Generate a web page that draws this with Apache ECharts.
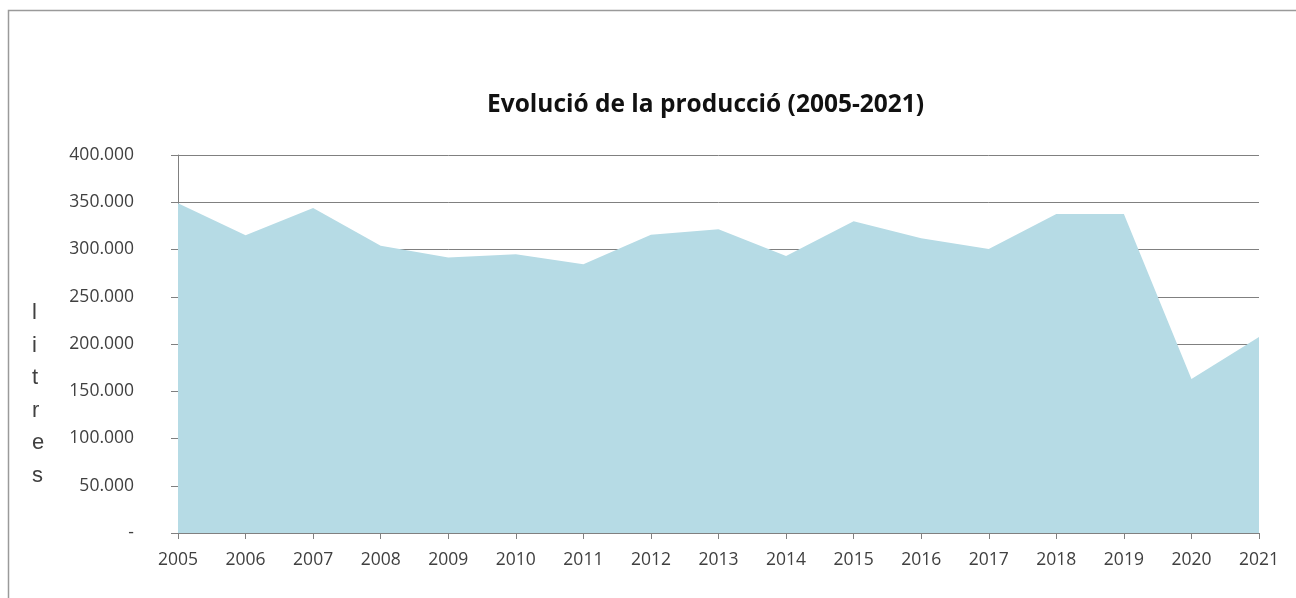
<!DOCTYPE html>
<html>
<head>
<meta charset="utf-8">
<script src="https://cdn.jsdelivr.net/npm/echarts@6/dist/echarts.min.js"></script>
<style>
html,body{margin:0;padding:0;background:#fff;}
#chart{width:1296px;height:598px;}
</style>
</head>
<body>
<div id="chart"></div>
<script>
var years = ['2005','2006','2007','2008','2009','2010','2011','2012','2013','2014','2015','2016','2017','2018','2019','2020','2021'];
var litres = [349000, 315000, 344000, 304000, 291500, 295000, 284500, 315500, 321500, 293000, 330000, 312000, 300500, 337500, 337500, 163000, 207500];
var titleText = 'Evolució de la producció (2005-2021)';
var axisName = 'litres';

var chart = echarts.init(document.getElementById('chart'), null, {renderer: 'canvas'});
var font = '"Open Sans", "Noto Sans", sans-serif';
chart.setOption({
  animation: false,
  backgroundColor: '#ffffff',
  title: {
    text: titleText,
    left: 482,
    top: 88,
    textStyle: {fontFamily: font, fontSize: 24.5, fontWeight: 'bold', color: '#111111'}
  },
  graphic: [
    {
      type: 'rect',
      shape: {x: 8.5, y: 10.5, width: 1400, height: 700},
      style: {fill: 'none', stroke: '#9a9a9a', lineWidth: 1.5},
      silent: true
    },
    {
      type: 'text',
      left: 32,
      top: 297,
      style: {
        text: axisName.split('').join('\n'),
        font: '22px "Liberation Sans", Arial, sans-serif',
        fill: '#404040',
        lineHeight: 32.5,
        align: 'center'
      }
    }
  ],
  grid: {left: 178, right: 37, top: 155, bottom: 65, containLabel: false},
  xAxis: {
    type: 'category',
    data: years,
    boundaryGap: false,
    axisLine: {lineStyle: {color: '#808080', width: 1}},
    axisTick: {show: true, length: 6, lineStyle: {color: '#808080'}},
    axisLabel: {color: '#404040', fontFamily: font, fontSize: 17.5, margin: 18},
    splitLine: {show: false}
  },
  yAxis: {
    type: 'value',
    min: 0,
    max: 400000,
    interval: 50000,
    axisLine: {show: true, lineStyle: {color: '#808080', width: 1}},
    axisTick: {show: true, length: 7, lineStyle: {color: '#808080'}},
    axisLabel: {
      color: '#404040', fontFamily: font, fontSize: 17.5, margin: 44,
      formatter: function (v) {
        if (v === 0) return '-';
        return (v / 1000).toFixed(0) + '.000';
      }
    },
    splitLine: {show: true, lineStyle: {color: '#808080', width: 1}}
  },
  series: [{
    type: 'line',
    data: litres,
    showSymbol: false,
    lineStyle: {width: 0, color: '#b6dbe5'},
    itemStyle: {color: '#b6dbe5'},
    areaStyle: {color: '#b6dbe5', opacity: 1}
  }]
});
</script>
</body>
</html>
